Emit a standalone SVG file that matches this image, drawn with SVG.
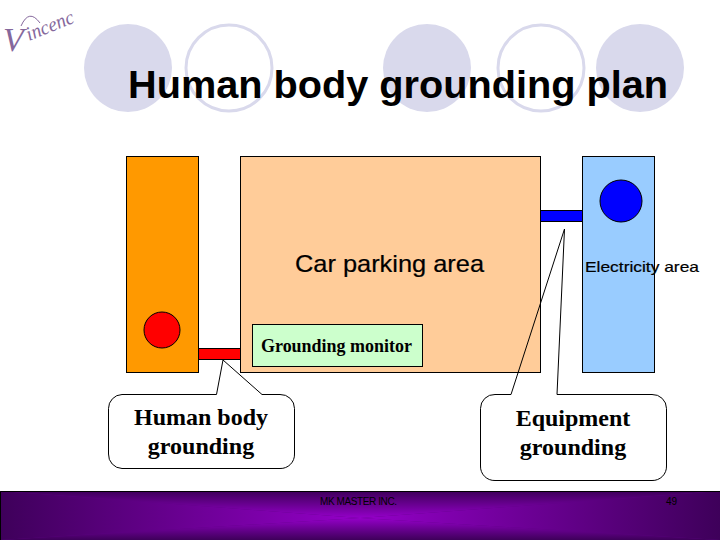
<svg xmlns="http://www.w3.org/2000/svg" width="720" height="540" viewBox="0 0 720 540">
<style>
.deco{fill:#d9d9ec}
.ring{fill:none;stroke:#d9d9ec;stroke-width:3}
.shape{stroke:#000;stroke-width:1}
.callout{fill:none;stroke:#000;stroke-width:1;stroke-linejoin:round}
.sans{font-family:"Liberation Sans",Arial,sans-serif;fill:#000}
.serif{font-family:"Liberation Serif","Times New Roman",serif;fill:#000;font-weight:bold;text-anchor:middle}
</style>
<defs>
<linearGradient id="gl" gradientUnits="userSpaceOnUse" x1="0" y1="0" x2="360" y2="0"><stop offset="0" stop-color="#3e005a"/><stop offset="1" stop-color="#9400c8"/></linearGradient>
<linearGradient id="gr" gradientUnits="userSpaceOnUse" x1="720" y1="0" x2="360" y2="0"><stop offset="0" stop-color="#3e005a"/><stop offset="1" stop-color="#9400c8"/></linearGradient>
<linearGradient id="gt" gradientUnits="userSpaceOnUse" x1="0" y1="491" x2="0" y2="518"><stop offset="0" stop-color="#3e005a"/><stop offset="1" stop-color="#9400c8"/></linearGradient>
<linearGradient id="gb" gradientUnits="userSpaceOnUse" x1="0" y1="540" x2="0" y2="518"><stop offset="0" stop-color="#3e005a"/><stop offset="1" stop-color="#9400c8"/></linearGradient>
</defs>
<rect width="720" height="540" fill="#fff"/>
<g id="logo" fill="#85689c" font-family="'Liberation Serif',serif" font-style="italic">
<text transform="translate(3,51)" font-size="34">V</text>
<text transform="translate(29,41) rotate(-22)" font-size="20" textLength="50" lengthAdjust="spacingAndGlyphs">incenc</text>
<path d="M21 26Q29 8 40 23" fill="none" stroke="#85689c" stroke-width="1"/>
</g>
<g id="background-circles">
<circle class="deco" cx="128" cy="68" r="44"/>
<circle class="ring" cx="229" cy="68" r="43"/>
<circle class="deco" cx="427" cy="68" r="44"/>
<circle class="ring" cx="541" cy="68" r="43"/>
<circle class="deco" cx="640" cy="68" r="44"/>
</g>
<text id="title" class="sans" x="128" y="98" font-size="39" font-weight="bold" textLength="540" lengthAdjust="spacingAndGlyphs">Human body grounding plan</text>
<g id="human-area"><rect class="shape" x="126.500" y="156.500" width="72" height="216" fill="#ff9900"/><circle class="shape" cx="162" cy="330" r="18" fill="#ff0000"/></g>
<g id="car-parking"><rect class="shape" x="240.500" y="156.500" width="300" height="216" fill="#ffcc99"/><text class="sans" x="295" y="272" font-size="24" stroke="#000" stroke-width="0.200" textLength="189" lengthAdjust="spacingAndGlyphs">Car parking area</text></g>
<g id="electricity-area"><rect class="shape" x="582.500" y="156.500" width="72" height="216" fill="#99ccff"/><circle class="shape" cx="621" cy="201" r="21" fill="#0000ff"/><text class="sans" x="585" y="272" font-size="15" stroke="#000" stroke-width="0.200" textLength="114" lengthAdjust="spacingAndGlyphs">Electricity area</text></g>
<g id="connectors">
<rect class="shape" x="198.500" y="348.500" width="42" height="11" fill="#ff0000"/>
<rect class="shape" x="540.500" y="210.500" width="42" height="11" fill="#0000ff"/>
</g>
<g id="grounding-monitor"><rect class="shape" x="252.500" y="324.500" width="170" height="42" fill="#ccffcc"/><text class="serif" x="336.500" y="352" font-size="18" textLength="151" lengthAdjust="spacingAndGlyphs">Grounding monitor</text></g>
<g id="human-callout">
<path class="callout" d="M122 394.500H216.500L223 360L262 394.500H280A14 14 0 0 1 294.500 408.500V454A14 14 0 0 1 280 468.500H122A14 14 0 0 1 108.500 454V408.500A14 14 0 0 1 122 394.500Z"/>
<text class="serif" x="201" y="425" font-size="24">Human body</text>
<text class="serif" x="201" y="454" font-size="24">grounding</text>
</g>
<g id="equipment-callout">
<path class="callout" d="M495 394.500H511L564.500 229L557 394.500H652A14 14 0 0 1 666.500 408.500V466A14 14 0 0 1 652 480.500H495A14 14 0 0 1 480.500 466V408.500A14 14 0 0 1 495 394.500Z"/>
<text class="serif" x="573" y="426" font-size="24">Equipment</text>
<text class="serif" x="573" y="455" font-size="24">grounding</text>
</g>
<g id="footer">
<rect x="0" y="491" width="720" height="49" fill="#5a0080"/>
<polygon points="0,491 360,518 0,540" fill="url(#gl)"/>
<polygon points="720,491 360,518 720,540" fill="url(#gr)"/>
<polygon points="0,491 720,491 360,518" fill="url(#gt)"/>
<polygon points="0,540 720,540 360,518" fill="url(#gb)"/>
<path d="M0.500 540V491.500H720" fill="none" stroke="#000"/>
<text class="sans" x="320" y="505" font-size="10" fill="#1a0030" textLength="77">MK MASTER INC.</text>
<text class="sans" x="666" y="505" font-size="10" fill="#1a0030" textLength="11">49</text>
</g>
</svg>
